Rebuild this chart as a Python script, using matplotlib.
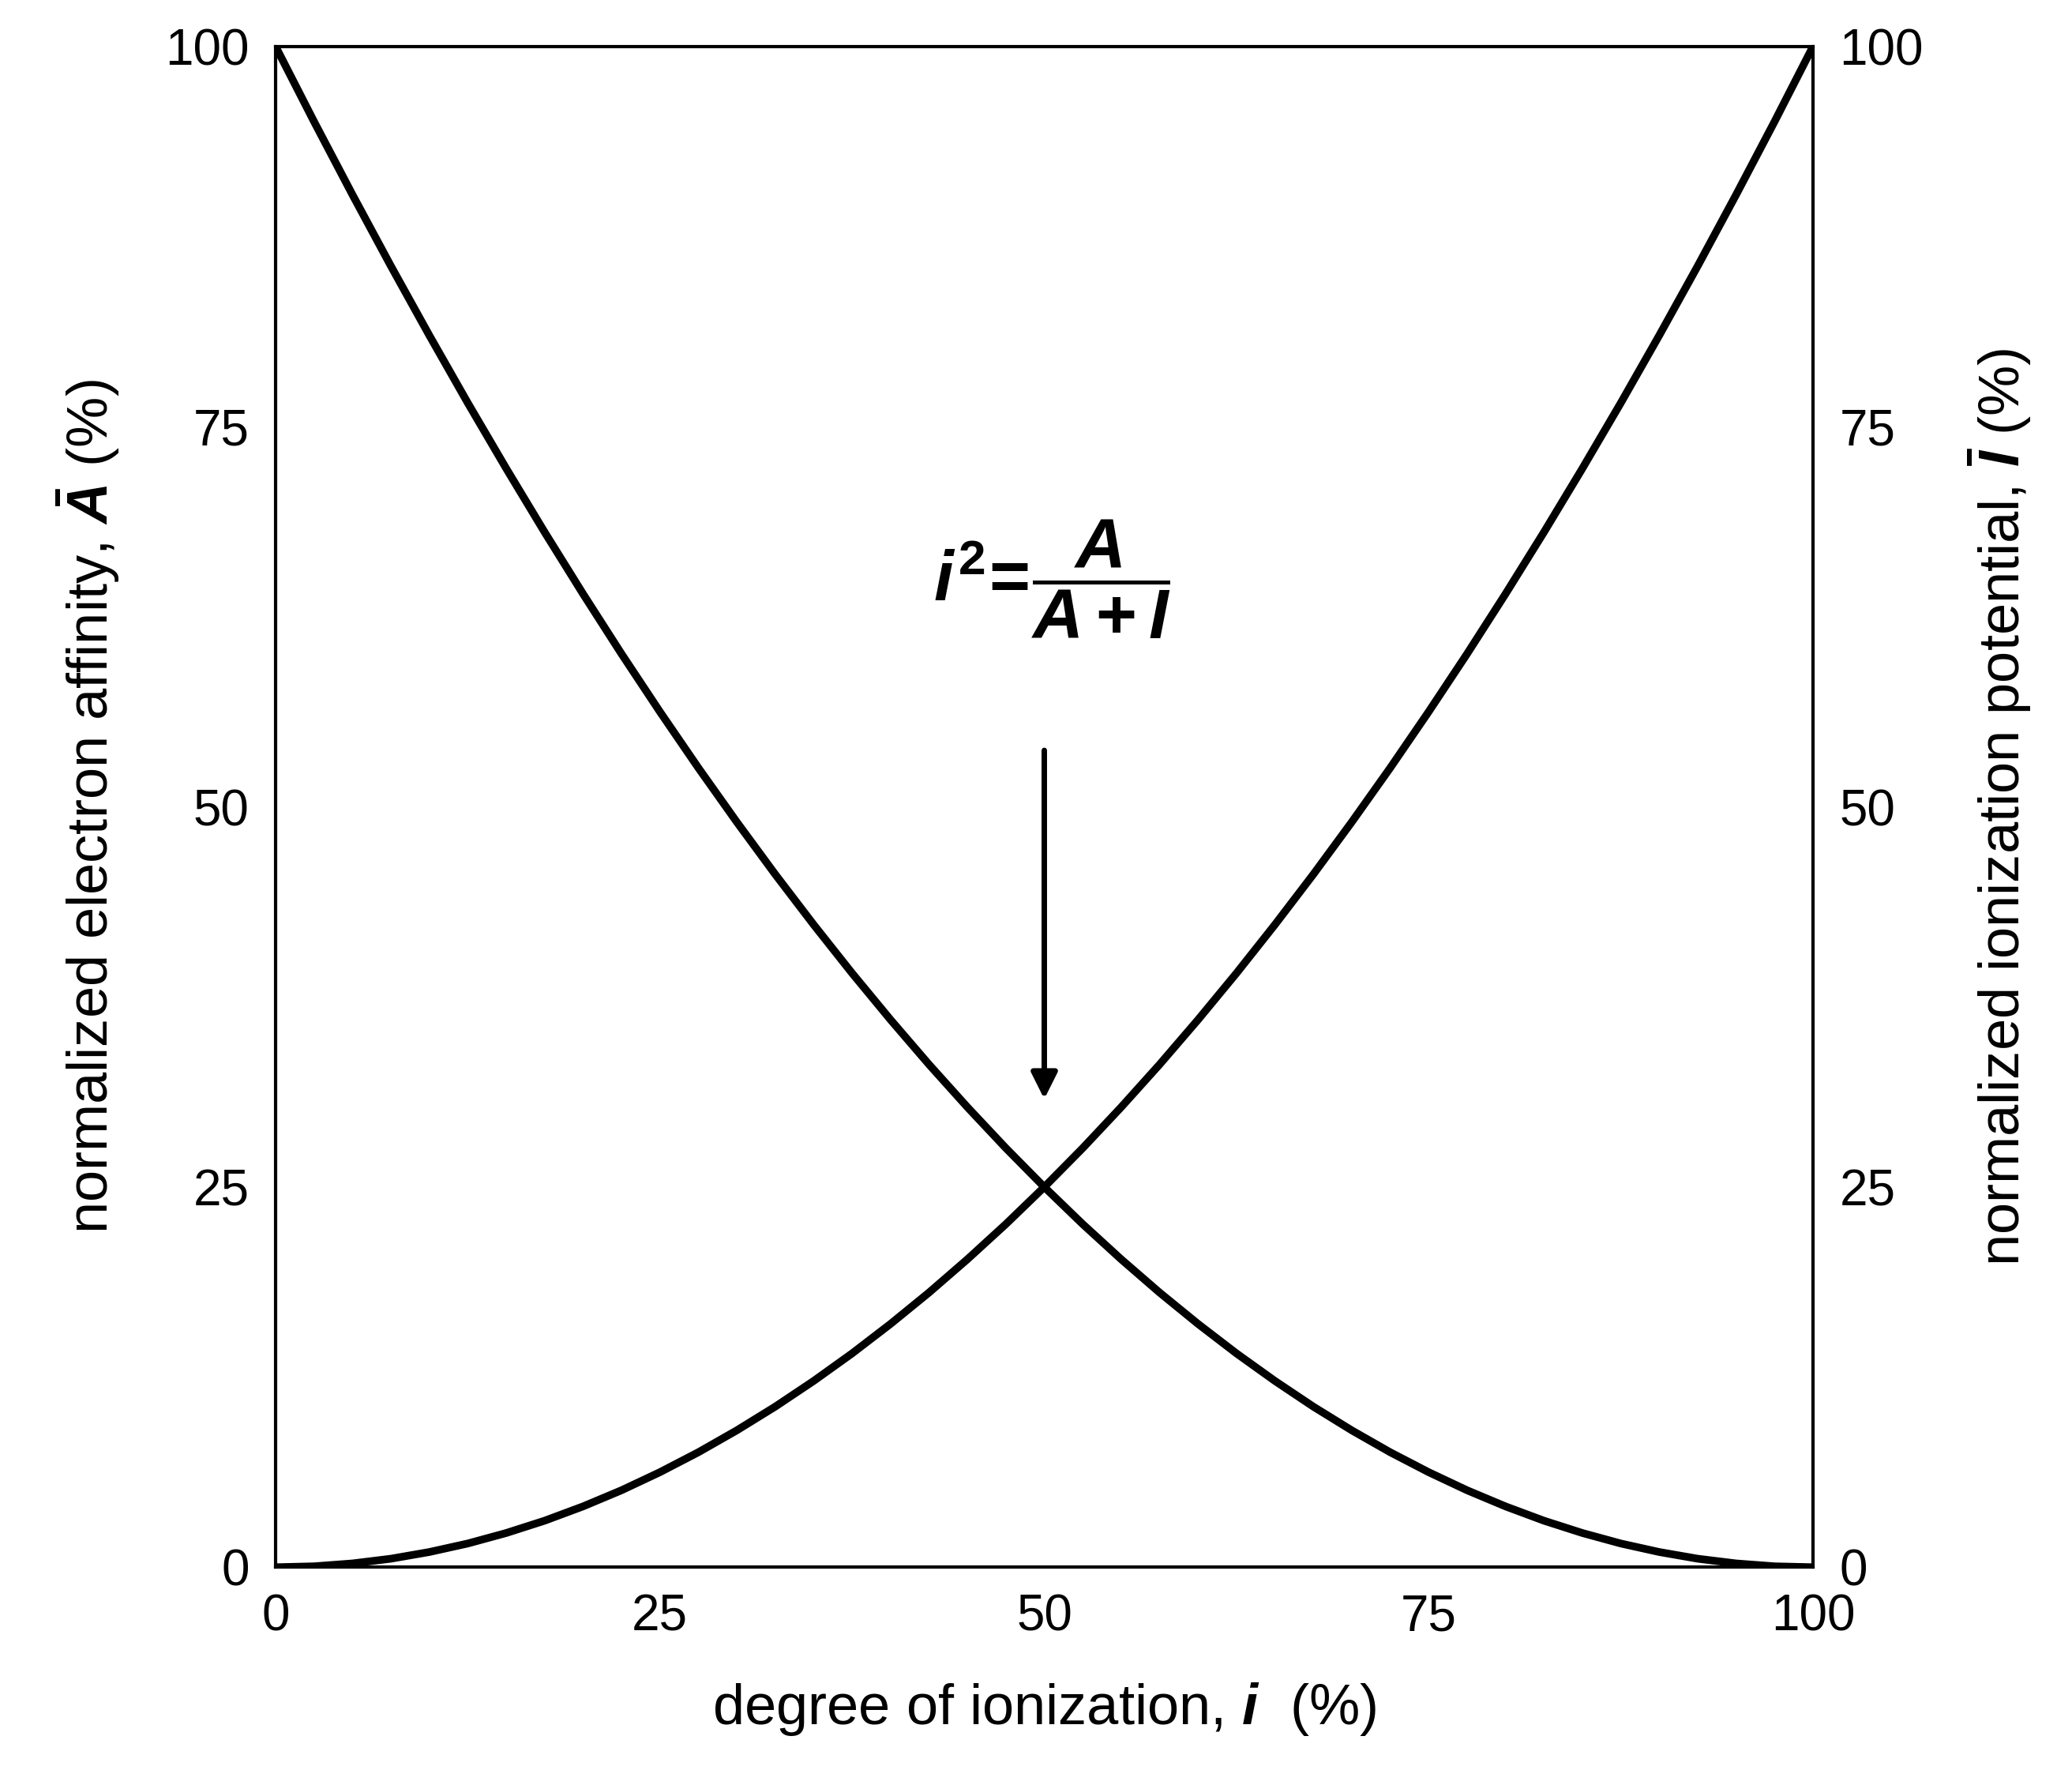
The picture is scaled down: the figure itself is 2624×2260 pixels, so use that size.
import matplotlib.pyplot as plt

plt.rcParams['font.family'] = ['Liberation Sans', 'DejaVu Sans']
plt.rcParams['mathtext.fontset'] = 'custom'
plt.rcParams['mathtext.it'] = 'Liberation Sans:italic:bold'
plt.rcParams['mathtext.rm'] = 'Liberation Sans:bold'
plt.rcParams['mathtext.bf'] = 'Liberation Sans:bold'

# values (percent)
ionization = [0, 2.5, 5, 7.5, 10, 12.5, 15, 17.5, 20, 22.5, 25, 27.5, 30, 32.5, 35,
              37.5, 40, 42.5, 45, 47.5, 50, 52.5, 55, 57.5, 60, 62.5, 65, 67.5, 70,
              72.5, 75, 77.5, 80, 82.5, 85, 87.5, 90, 92.5, 95, 97.5, 100]
potential = [0, 0.06, 0.25, 0.56, 1, 1.56, 2.25, 3.06, 4, 5.06, 6.25, 7.56, 9, 10.56,
             12.25, 14.06, 16, 18.06, 20.25, 22.56, 25, 27.56, 30.25, 33.06, 36, 39.06,
             42.25, 45.56, 49, 52.56, 56.25, 60.06, 64, 68.06, 72.25, 76.56, 81, 85.56,
             90.25, 95.06, 100]
affinity = potential[::-1]
ticks = [0, 25, 50, 75, 100]

fig = plt.figure(figsize=(13.12, 11.3), dpi=200)
ax = fig.add_axes([0.133, 0.122, 0.742, 0.852])
ax.plot(ionization, affinity, color='black', lw=3.5)
ax.plot(ionization, potential, color='black', lw=3.5)
ax.set_xlim(0, 100)
ax.set_ylim(0, 100)
ax.set_xticks(ticks)
ax.set_yticks(ticks)
ax.tick_params(length=0, labelsize=23, pad=12)
for s in ax.spines.values():
    s.set_linewidth(1.5)

ax2 = ax.twinx()
ax2.set_ylim(0, 100)
ax2.set_yticks(ticks)
ax2.tick_params(length=0, labelsize=23, pad=12)

ax.set_xlabel('degree of ionization, $i$  (%)', fontsize=26, labelpad=18)
ax.set_ylabel(r'normalized electron affinity, $\bar{A}$ (%)', fontsize=26, labelpad=20)
ax2.set_ylabel(r'normalized ionization potential, $\bar{I}$ (%)', fontsize=26, labelpad=20)

ax.annotate('', xy=(50, 30.5), xytext=(50, 54),
            arrowprops=dict(arrowstyle='-|>', color='black', lw=2.5, mutation_scale=25))
ax.text(50.5, 65, r'$i^2\!=\!\dfrac{A}{A+I}$', fontsize=32, ha='center', va='center')

fig.savefig('out.png', dpi=200)
